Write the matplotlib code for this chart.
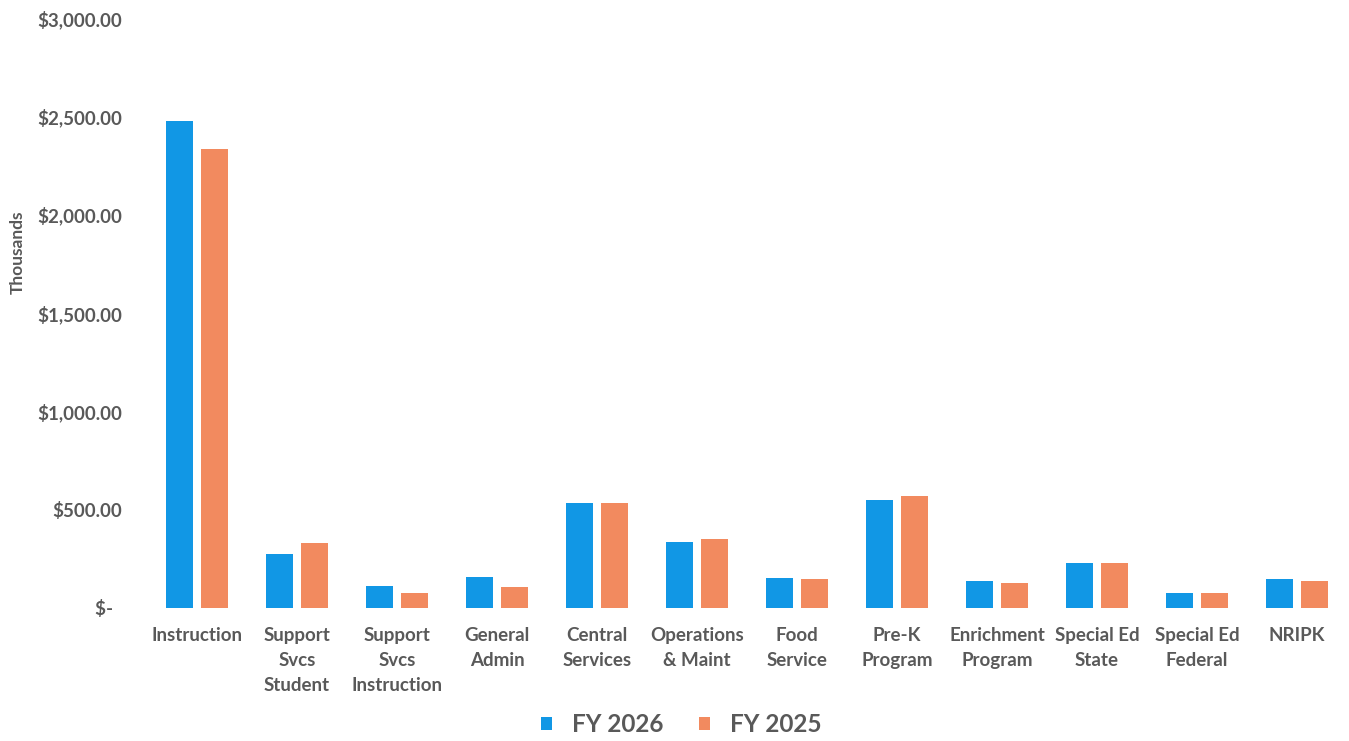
import matplotlib.pyplot as plt
import numpy as np
from matplotlib.ticker import FuncFormatter

categories = ['Instruction', 'Support\nSvcs\nStudent', 'Support\nSvcs\nInstruction',
              'General\nAdmin', 'Central\nServices', 'Operations\n& Maint',
              'Food\nService', 'Pre-K\nProgram', 'Enrichment\nProgram',
              'Special Ed\nState', 'Special Ed\nFederal', 'NRIPK']
fy2026 = [2476, 275, 112, 158, 534, 336, 153, 549, 137, 229, 76, 147]
fy2025 = [2334, 330, 76, 107, 534, 351, 147, 569, 127, 229, 76, 137]
yticks = [0, 500, 1000, 1500, 2000, 2500, 3000]

blue = '#1197E5'
orange = '#F28A5F'
grey = '#595959'
plt.rcParams['font.family'] = ['Lato', 'DejaVu Sans']
plt.rcParams['font.weight'] = 'bold'

fig = plt.figure(figsize=(13.49, 7.41), dpi=100)
ax = fig.add_axes([0.109, 0.1795, 0.8895, 0.7962])

x = np.arange(len(categories))
w = 0.275
ax.bar(x - 0.175, fy2026, w, color=blue, label='FY 2026')
ax.bar(x + 0.175, fy2025, w, color=orange, label='FY 2025')

ax.set_xlim(-0.5, len(categories) - 0.5)
ax.set_ylim(0, 3000)
ax.set_yticks(yticks)


def money(v, pos):
    if v == 0:
        return '$-  '
    return '${:,.2f}'.format(v)


ax.yaxis.set_major_formatter(FuncFormatter(money))
ax.set_xticks(x)
ax.set_xticklabels(categories, linespacing=1.55)
ax.tick_params(axis='y', length=0, pad=18, labelsize=13.5, labelcolor=grey)
ax.tick_params(axis='x', length=0, pad=14, labelsize=13.5, labelcolor=grey)
for t in ax.get_xticklabels():
    t.set_va('top')
for s in ax.spines.values():
    s.set_visible(False)

fig.text(0.013, 0.66, 'Thousands', rotation=90, ha='center', va='center',
         fontsize=12.5, color=grey, fontweight='bold')

leg = fig.legend(loc='center', bbox_to_anchor=(0.505, 0.022), ncol=2, frameon=False,
                 fontsize=17.5, handlelength=0.45, handleheight=0.45,
                 columnspacing=1.5, handletextpad=0.8)
for t in leg.get_texts():
    t.set_color(grey)

fig.savefig('out.png', dpi=100)
